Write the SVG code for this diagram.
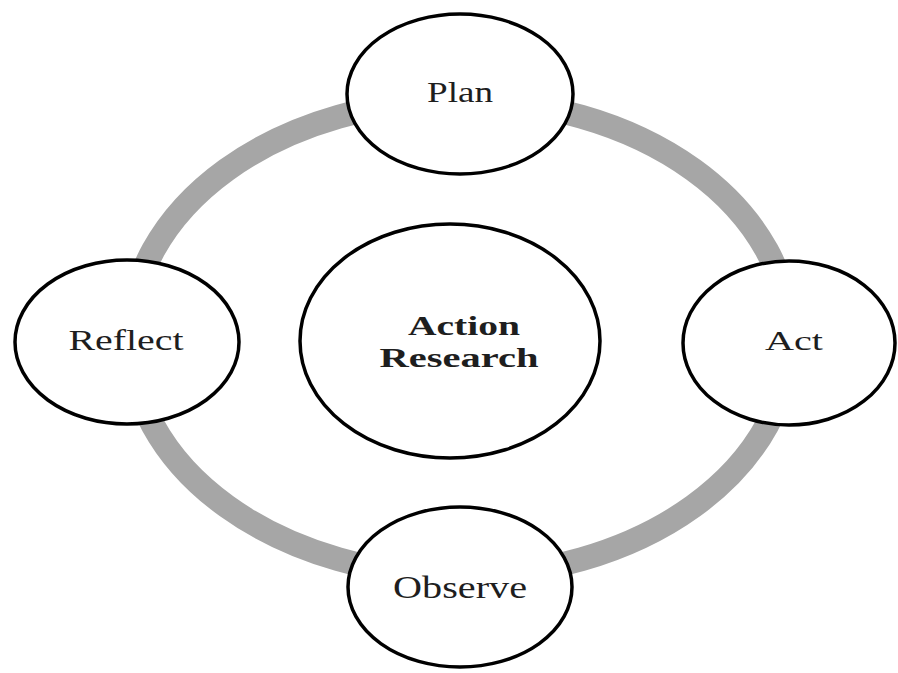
<svg xmlns="http://www.w3.org/2000/svg" width="898" height="673" viewBox="0 0 898 673">
  <style>
    .node { fill: #ffffff; stroke: #000000; stroke-width: 3.5; }
    .ring { fill: none; stroke: #a6a6a6; stroke-width: 24; }
    .lbl { font-family: "Liberation Serif", "Times New Roman", serif; fill: #1e1e1e; text-anchor: middle; }
    .hub { font-weight: bold; font-size: 27px; }
  </style>
  <rect width="898" height="673" fill="#ffffff"/>
  <g id="connectors">
    <ellipse class="ring" cx="460" cy="338" rx="330" ry="238"/>
  </g>
  <g id="center">
    <ellipse class="node" cx="450" cy="341" rx="150" ry="117"/>
    <text class="lbl hub" x="464" y="335" textLength="112" lengthAdjust="spacingAndGlyphs">Action</text>
    <text class="lbl hub" x="459" y="367" textLength="159" lengthAdjust="spacingAndGlyphs">Research</text>
  </g>
  <g id="plan">
    <ellipse class="node" cx="460" cy="94" rx="113" ry="80"/>
    <text class="lbl" x="460" y="102" font-size="30" textLength="66" lengthAdjust="spacingAndGlyphs">Plan</text>
  </g>
  <g id="act">
    <ellipse class="node" cx="789" cy="343" rx="106" ry="82"/>
    <text class="lbl" x="794" y="350" font-size="28" textLength="58" lengthAdjust="spacingAndGlyphs">Act</text>
  </g>
  <g id="observe">
    <ellipse class="node" cx="460" cy="587" rx="112" ry="80"/>
    <text class="lbl" x="460" y="598" font-size="31" textLength="134" lengthAdjust="spacingAndGlyphs">Observe</text>
  </g>
  <g id="reflect">
    <ellipse class="node" cx="127" cy="342" rx="112" ry="82"/>
    <text class="lbl" x="126" y="350" font-size="30" textLength="115" lengthAdjust="spacingAndGlyphs">Reflect</text>
  </g>
</svg>
